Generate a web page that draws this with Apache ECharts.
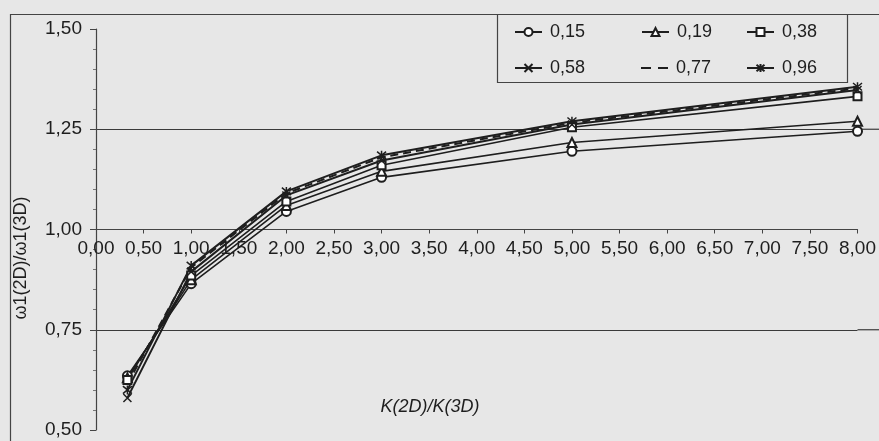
<!DOCTYPE html>
<html>
<head>
<meta charset="utf-8">
<style>
html,body{margin:0;padding:0;background:#e7e7e7;}
#c{width:879px;height:441px;}
</style>
<script src="https://cdn.jsdelivr.net/npm/echarts@6/dist/echarts.min.js"></script>
</head>
<body>
<div id="c"></div>
<script>
var xValues = [0.33, 1, 2, 3, 5, 8];
var seriesNames = ['0,15', '0,19', '0,38', '0,58', '0,77', '0,96'];
var s015 = [0.635, 0.865, 1.045, 1.130, 1.195, 1.245];
var s019 = [0.630, 0.875, 1.060, 1.145, 1.217, 1.270];
var s038 = [0.625, 0.885, 1.070, 1.160, 1.255, 1.332];
var s058 = [0.580, 0.895, 1.085, 1.172, 1.262, 1.348];
var s077 = [0.615, 0.905, 1.090, 1.180, 1.266, 1.352];
var s096 = [0.600, 0.910, 1.095, 1.185, 1.270, 1.356];
var yTicks = [0.50, 0.75, 1.00, 1.25, 1.50];
var xTitle = 'K(2D)/K(3D)';
var yTitle = 'ω1(2D)/ω1(3D)';

var FONT = '"Liberation Sans", Arial, sans-serif';
var INK = '#1e1e1e';
var X_SYM = 'path://M0,0L10,10M10,0L0,10';
var STAR_SYM = 'path://M0,0L10,10M10,0L0,10M5,-1L5,11';
var DASH_ICON = 'path://M0,0L10,0L10,2L0,2ZM17,0L27,0L27,2L17,2Z';
var symbols = ['emptyCircle', 'emptyTriangle', 'emptyRect', X_SYM, 'none', STAR_SYM];
var sizes = [9, 9, 8, 8, 0, 9];
var allData = [s015, s019, s038, s058, s077, s096];

function fmt(v){ return v.toFixed(2).replace('.', ','); }

var series = allData.map(function(arr, i){
  var isPath = symbols[i].indexOf('path://') === 0;
  return {
    name: seriesNames[i],
    type: 'line',
    data: xValues.map(function(x, j){ return [x, arr[j]]; }),
    symbol: symbols[i],
    symbolSize: sizes[i],
    showSymbol: symbols[i] !== 'none',
    lineStyle: { color: INK, width: i >= 3 ? 2 : 1.6, type: i === 4 ? [8, 5] : 'solid' },
    itemStyle: isPath ? { color: 'none', borderColor: INK, borderWidth: 1.5 } : { color: INK, borderWidth: 1.4 },
    emphasis: { disabled: true },
    z: 3
  };
});

var legendLefts = [509, 636, 741];
var legendTops = [18, 54];
var legends = seriesNames.map(function(n, i){
  var isDash = i === 4;
  return {
    data: [isDash ? { name: n, icon: DASH_ICON, itemStyle: { color: INK, borderWidth: 0 } } : n],
    left: legendLefts[i % 3],
    top: legendTops[Math.floor(i / 3)],
    itemWidth: 27,
    itemHeight: isDash ? 2 : 10,
    itemGap: 0,
    selectedMode: false,
    textStyle: { fontSize: 18, color: INK, fontFamily: FONT, padding: [0, 0, 0, 3] }
  };
});

var chart = echarts.init(document.getElementById('c'), null, { renderer: 'canvas' });
var splitColors = yTicks.map(function(v){ return (v === 0.75 || v === 1.25) ? '#3a3a3a' : 'rgba(0,0,0,0)'; });

chart.setOption({
  backgroundColor: '#e7e7e7',
  animation: false,
  grid: { left: 96, right: 20, top: 29, bottom: 11, containLabel: false },
  legend: legends,
  xAxis: {
    type: 'value', min: 0, max: 8, interval: 0.5,
    position: 'bottom', offset: -200.5,
    axisLine: { show: true, onZero: false, lineStyle: { color: '#444', width: 1.2 } },
    axisTick: { show: true, length: 4, inside: false, lineStyle: { color: '#444' } },
    axisLabel: { formatter: fmt, fontSize: 19, color: INK, fontFamily: FONT, margin: 10 },
    splitLine: { show: false }
  },
  yAxis: {
    type: 'value', min: 0.5, max: 1.5, interval: 0.25,
    axisLine: { show: true, lineStyle: { color: '#444', width: 1.2 } },
    axisTick: { show: true, length: 6, lineStyle: { color: '#444' } },
    minorTick: { show: true, splitNumber: 5, length: 3, lineStyle: { color: '#777' } },
    axisLabel: { formatter: fmt, fontSize: 19, color: INK, fontFamily: FONT, margin: 14 },
    splitLine: { show: true, lineStyle: { color: splitColors, width: 1.2 } }
  },
  series: series
});

var p125 = chart.convertToPixel({ gridIndex: 0 }, [8, 1.25]);
var p075 = chart.convertToPixel({ gridIndex: 0 }, [8, 0.75]);

chart.setOption({
  graphic: [
    { type: 'rect', shape: { x: 10.5, y: 14.5, width: 900, height: 500 }, style: { fill: 'none', stroke: '#444', lineWidth: 1.2 }, silent: true, z: 0 },
    { type: 'rect', shape: { x: 497.5, y: 14.5, width: 350, height: 68 }, style: { fill: 'none', stroke: '#444', lineWidth: 1.2 }, silent: true, z: 10 },
    { type: 'line', shape: { x1: p125[0], y1: p125[1], x2: 879, y2: p125[1] }, style: { stroke: '#3a3a3a', lineWidth: 1.2 }, silent: true },
    { type: 'line', shape: { x1: p075[0], y1: p075[1], x2: 879, y2: p075[1] }, style: { stroke: '#3a3a3a', lineWidth: 1.2 }, silent: true },
    { type: 'text', x: 430, y: 407, style: { text: xTitle, fontSize: 18, fontStyle: 'italic', fontFamily: FONT, fill: INK, textAlign: 'center', textVerticalAlign: 'middle' }, silent: true },
    { type: 'text', x: 21, y: 258, rotation: Math.PI / 2, style: { text: yTitle, fontSize: 18, fontFamily: FONT, fill: INK, textAlign: 'center', textVerticalAlign: 'middle' }, silent: true }
  ]
});
</script>
</body>
</html>
